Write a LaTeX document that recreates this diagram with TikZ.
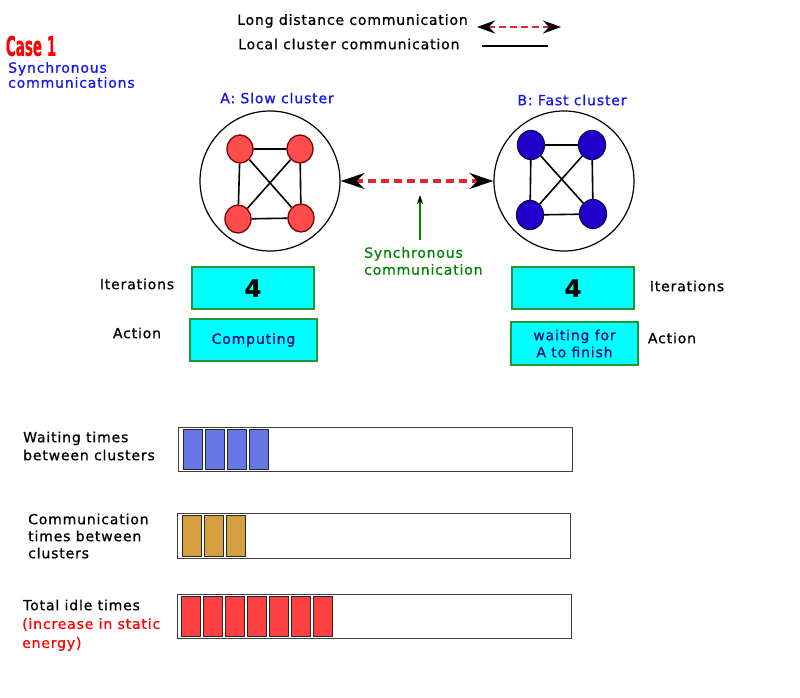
\documentclass[tikz,border=0pt]{standalone}
\usepackage{fontspec}
\setmainfont{DejaVu Sans}[LetterSpace=6,FakeBold=0.8]
\usetikzlibrary{arrows.meta,positioning,shapes.geometric}
\definecolor{nodered}{RGB}{255,77,77}
\definecolor{rimred}{RGB}{120,0,0}
\definecolor{nodeblue}{RGB}{34,0,204}
\definecolor{rimblue}{RGB}{10,10,90}
\definecolor{boxcyan}{RGB}{0,255,255}
\definecolor{boxgreen}{RGB}{34,150,50}
\definecolor{boxtext}{RGB}{10,10,130}
\definecolor{txtblue}{RGB}{20,20,240}
\definecolor{txtgreen}{RGB}{0,130,0}
\definecolor{dashred}{RGB}{220,40,50}
\definecolor{waitblue}{RGB}{102,119,229}
\definecolor{commgold}{RGB}{214,160,64}
\definecolor{idlered}{RGB}{255,64,64}

\begin{document}
\begin{tikzpicture}[x=1pt,y=-1pt,font=\fontsize{14}{17}\selectfont,
   rnd/.style={ellipse,draw=rimred,fill=nodered,line width=1.3pt,minimum width=26pt,minimum height=28pt,inner sep=0pt},
   bnd/.style={ellipse,draw=rimblue,fill=nodeblue,line width=1.3pt,minimum width=27pt,minimum height=29pt,inner sep=0pt},
   clus/.style={circle,draw,line width=1.2pt,minimum size=140pt,inner sep=0pt},
   cbox/.style={draw=boxgreen,fill=boxcyan,line width=1.5pt,inner sep=0pt,align=center},
   bar/.style={rectangle,draw=black!75,line width=1.4pt,inner sep=0pt,anchor=north west},
   blk/.style={rectangle,draw=black!85,line width=1.2pt,inner sep=0pt,anchor=north west,minimum width=19pt},
   lbl/.style={align=left,anchor=west,inner sep=0pt}]
  \useasboundingbox (0,0) rectangle (800,698);
  % legend
  \node[lbl] (ldist) at (237,21) {Long distance communication};
  \node[lbl] (lloc) at (238,44) {Local cluster communication};
  \coordinate (lg1) at (477,27);
  \coordinate (lg2) at (561,27);
  \coordinate (lh1) at (482,46);
  \coordinate (lh2) at (548,46);
  \draw[dashred,line width=2.8pt,dash pattern=on 7pt off 4pt,
        >={Stealth[black,length=18pt,width=13pt,inset=6pt]},<->] (lg1) -- (lg2);
  \draw[line width=1.5pt] (lh1) -- (lh2);
  % titles
  \node[red,font=\bfseries\fontsize{27}{27}\selectfont\addfontfeatures{LetterSpace=0},xscale=0.5,inner sep=0pt] (case) at (31,46) {Case 1};
  \node[lbl,txtblue,font=\fontsize{14}{15}\selectfont] (sync) at (8,75) {Synchronous\\communications};
  \node[txtblue] (ta) at (277,98) {A: Slow cluster};
  \node[txtblue] (tb) at (572,100) {B: Fast cluster};
  % cluster A
  \node[clus] (ca) at (270,181) {};
  \node[rnd] (a1) at (240,149) {};
  \node[rnd] (a2) at (300,149) {};
  \node[rnd] (a3) at (238,219) {};
  \node[rnd] (a4) at (301,218) {};
  \draw[line width=1.6pt] (a1) -- (a2) (a1) -- (a3) (a2) -- (a4) (a3) -- (a4) (a1) -- (a4) (a2) -- (a3);
  % cluster B
  \node[clus] (cb) at (564,181) {};
  \node[bnd] (b1) at (531,145) {};
  \node[bnd] (b2) at (592,145) {};
  \node[bnd] (b3) at (530,215) {};
  \node[bnd] (b4) at (593,214) {};
  \draw[line width=1.6pt] (b1) -- (b2) (b1) -- (b3) (b2) -- (b4) (b3) -- (b4) (b1) -- (b4) (b2) -- (b3);
  % long distance link
  \draw[dashred,line width=3.2pt,dash pattern=on 8pt off 5pt,
        >={Stealth[black,length=24pt,width=16pt,inset=8pt]},<->] (ca) -- (cb);
  \node[lbl,txtgreen] (syntxt) at (364,261) {Synchronous\\communication};
  \coordinate (synend) at (420,195);
  \draw[txtgreen,line width=1.3pt,-{Stealth[black,length=9pt,width=6pt]}] (synend |- syntxt.north) ++(0,-7) -- (synend);
  % counters
  \node (itA) at (137,284) {Iterations};
  \node (acA) at (137,333) {Action};
  \node[cbox,minimum width=122pt,minimum height=42pt,font=\bfseries\fontsize{24}{24}\selectfont] (nA) at (253,288) {4};
  \node[cbox,minimum width=127pt,minimum height=42pt,text=boxtext] (wA) at (253.5,340) {Computing};
  \node[cbox,minimum width=122pt,minimum height=42pt,font=\bfseries\fontsize{24}{24}\selectfont] (nB) at (573,288) {4};
  \node[cbox,minimum width=127pt,minimum height=43pt,text=boxtext,font=\fontsize{14}{17}\selectfont] (wB) at (574.5,343.5) {waiting for\\A to finish};
  \node (itB) at (687,286) {Iterations};
  \node (acB) at (672,338) {Action};
  % bars
  \node[lbl,font=\fontsize{14}{18}\selectfont] (wtxt) at (23,446) {Waiting times\\between clusters};
  \node[bar,minimum width=394pt,minimum height=44pt] (wbar) at (178,427) {};
  \foreach \i in {0,...,3}
    \node[blk,fill=waitblue,minimum height=40pt] (w\i) at (183+22*\i,428.5) {};
  \node[lbl,font=\fontsize{14}{17}\selectfont] (ctxt) at (28,536) {Communication\\times between\\clusters};
  \node[bar,minimum width=393pt,minimum height=45pt] (cbar) at (177,513) {};
  \foreach \i in {0,...,2}
    \node[blk,fill=commgold,minimum height=41pt] (c\i) at (182+22*\i,515) {};
  \node[lbl,font=\fontsize{14}{19}\selectfont] (itxt) at (23,605) {Total idle times};
  \node[lbl,red,font=\fontsize{14}{19}\selectfont] (etxt) at (22,634.5) {(increase in static\\energy)};
  \node[bar,minimum width=394pt,minimum height=44pt] (ibar) at (177,594) {};
  \foreach \i in {0,...,6}
    \node[blk,fill=idlered,minimum height=40pt] (d\i) at (181+22*\i,596) {};
\end{tikzpicture}
\end{document}
